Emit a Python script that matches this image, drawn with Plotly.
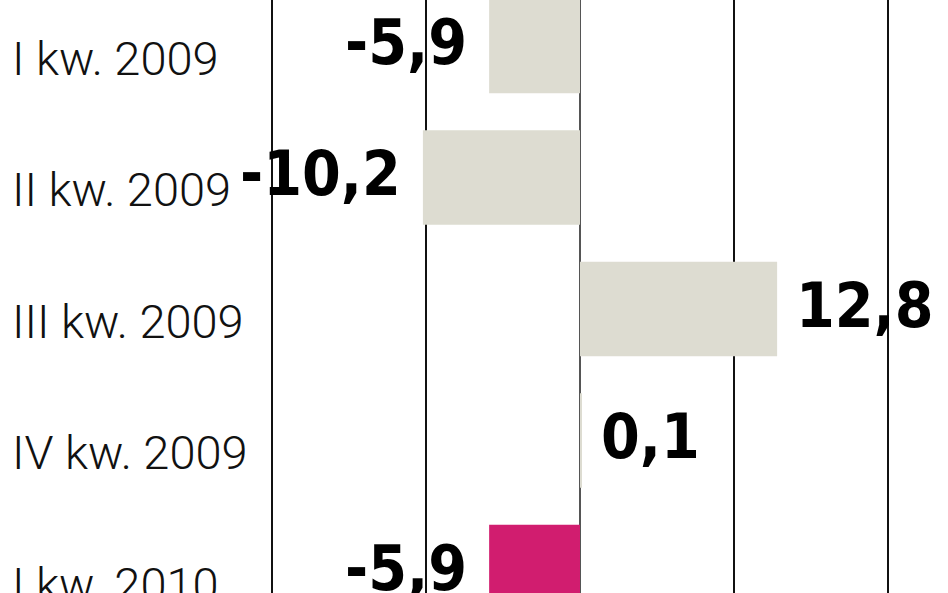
import plotly.graph_objects as go

categories = ["I kw. 2009", "II kw. 2009", "III kw. 2009", "IV kw. 2009", "I kw. 2010"]
values = [-5.9, -10.2, 12.8, 0.1, -5.9]
colors = ["#dddcd1", "#dddcd1", "#dddcd1", "#dddcd1", "#d11d6f"]
grid_ticks = [-20, -10, 0, 10, 20]

labels = [f"{v:.1f}".replace(".", ",") for v in values]
pos = list(range(len(categories)))

cat_font = "Roboto, DejaVu Sans Condensed, sans-serif"
val_font = "DejaVu Sans Condensed, Liberation Sans Narrow, sans-serif"

fig = go.Figure()
fig.add_trace(go.Bar(
    y=pos, x=values, orientation="h",
    marker=dict(color=colors, line=dict(width=0)),
    width=0.72,
    hoverinfo="skip",
))

annotations = []
for p, v, lab in zip(pos, values, labels):
    annotations.append(dict(
        x=v, y=p, xref="x", yref="y", text=f"<b>{lab}</b>", showarrow=False,
        xanchor="right" if v < 0 else "left",
        xshift=-20 if v < 0 else 17, yshift=4,
        font=dict(family=val_font, size=62, color="#000000"),
    ))
for p, c in zip(pos, categories):
    annotations.append(dict(
        x=0.011, y=p, xref="paper", yref="y", text=c, showarrow=False,
        xanchor="left", yshift=-12,
        font=dict(family=cat_font, size=47, color="#111111", weight=300),
    ))

fig.update_layout(
    width=948, height=593,
    margin=dict(l=0, r=0, t=0, b=0),
    paper_bgcolor="white", plot_bgcolor="white",
    showlegend=False,
    annotations=annotations,
    xaxis=dict(
        range=[-580 / 15.4, (948 - 580) / 15.4],
        tickvals=grid_ticks, showticklabels=False,
        showgrid=True, gridcolor="#111111", gridwidth=1.5,
        zeroline=True, zerolinecolor="#555555", zerolinewidth=2,
        showline=False, fixedrange=True,
    ),
    yaxis=dict(
        range=[(593 - 46) / 131.5, -46 / 131.5],
        showticklabels=False, showgrid=False, zeroline=False,
        showline=False, fixedrange=True,
    ),
)

fig.write_html(
    "out.html",
    config={"displayModeBar": False},
    post_script="document.body.style.margin='0';document.body.style.padding='0';",
)
